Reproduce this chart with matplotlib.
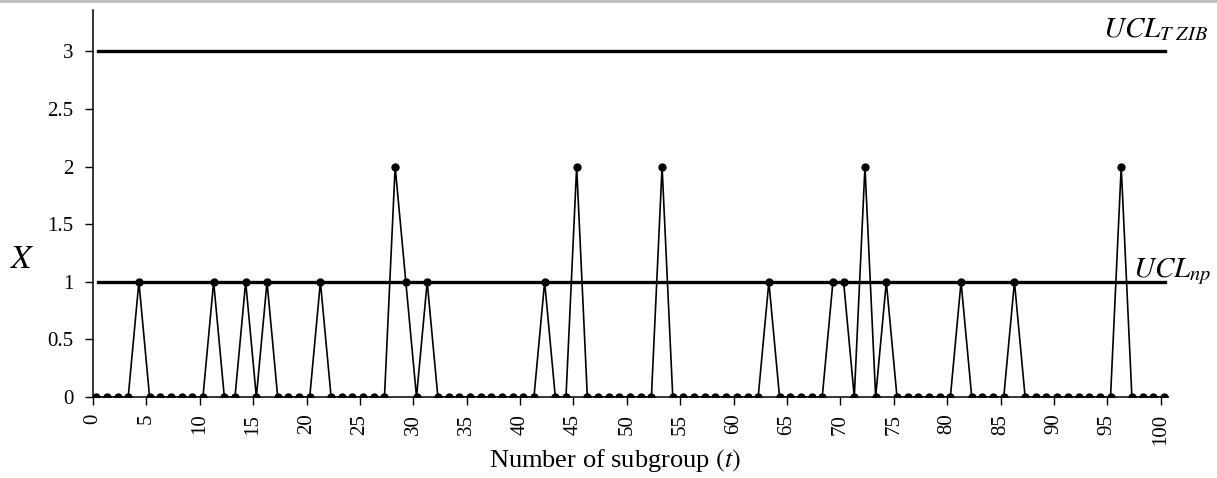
import matplotlib
matplotlib.use("Agg")
import matplotlib.pyplot as plt
import numpy as np

plt.rcParams['font.family'] = ['Liberation Serif', 'DejaVu Serif']
plt.rcParams['mathtext.fontset'] = 'stix'

# subgroup index and observed counts
t = np.arange(0, 101)
ones_at = [4, 11, 14, 16, 21, 29, 31, 42, 63, 69, 70, 74, 81, 86]
twos_at = [28, 45, 53, 72, 96]
x_vals = np.zeros(len(t))
x_vals[ones_at] = 1
x_vals[twos_at] = 2

ucl_np = 1.0
ucl_tzib = 3.0
x_ticks = np.arange(0, 101, 5)
y_ticks = [0, 0.5, 1, 1.5, 2, 2.5, 3]
y_ticklabels = ['0', '0.5', '1', '1.5', '2', '2.5', '3']

shift = 0.3  # points sit a bit right of the category ticks

fig = plt.figure(figsize=(12.17, 4.78), dpi=100)
ax = fig.add_axes([0.0764, 0.1695, 0.8835, 0.8095])

ax.plot(t + shift, x_vals, color='black', lw=1.2, marker='o', ms=5, zorder=3)
ax.plot([0.45, 100.4], [ucl_np, ucl_np], color='black', lw=2.4, zorder=2)
ax.plot([0.45, 100.4], [ucl_tzib, ucl_tzib], color='black', lw=2.4, zorder=2)

ax.set_xlim(0, 100.7)
ax.set_ylim(0, 3.36)
ax.set_xticks(x_ticks)
ax.set_xticklabels([str(v) for v in x_ticks], rotation=90, fontsize=15)
ax.set_yticks(y_ticks)
ax.set_yticklabels(y_ticklabels, fontsize=15)
ax.tick_params(direction='out', length=6, width=1, colors='black')
ax.tick_params(axis='y', pad=8)
ax.tick_params(axis='x', pad=6)
ax.spines['top'].set_visible(False)
ax.spines['right'].set_visible(False)
for s in ['left', 'bottom']:
    ax.spines[s].set_linewidth(1.1)

ax.text(-0.066, 0.354, '$X$', fontsize=24, ha='center', va='center',
        transform=ax.transAxes)
fig.text(615 / 1217, 1 - 467 / 478, 'Number of subgroup $(t)$', fontsize=19,
         ha='center', va='baseline')

ax.text(1.037, ucl_tzib + 0.125, '$UCL_{T\\ ZIB}$', fontsize=21, ha='right', va='baseline',
        transform=ax.get_yaxis_transform(), clip_on=False)
ax.text(0.967, ucl_np + 0.045, '$UCL_{np}$', fontsize=21, ha='left', va='baseline',
        transform=ax.get_yaxis_transform(), clip_on=False)

# thin grey strip along the top edge
fig.add_artist(plt.Rectangle((0, 0.994), 1, 0.006, transform=fig.transFigure,
                             color='#c0c0c0', lw=0))

fig.savefig('out.png', dpi=100)
